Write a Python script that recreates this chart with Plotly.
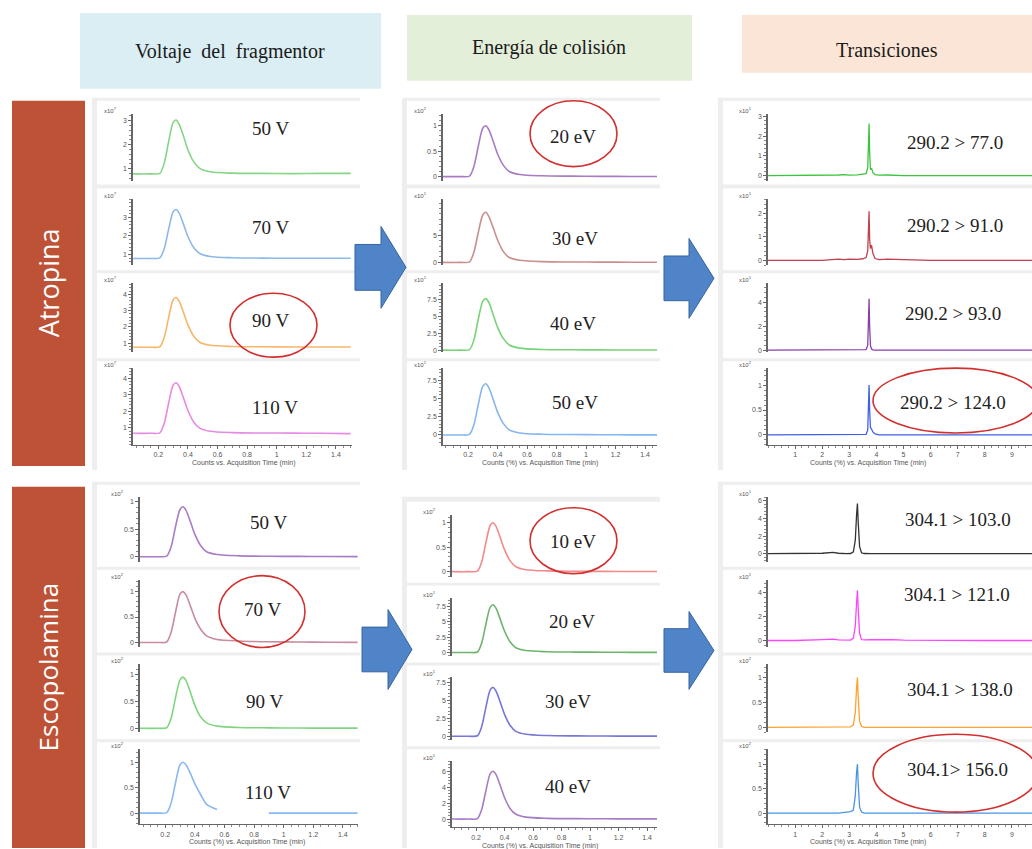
import plotly.graph_objects as go

W, H = 1032, 849

# ---------------- retention-time grids (min) ----------------
t_run = [0.03, 0.15, 0.21, 0.24, 0.27, 0.30, 0.32, 0.34, 0.37, 0.40, 0.44, 0.48,
         0.55, 0.70, 0.90, 1.10, 1.30, 1.50]
t_atr = [0.0, 1.0, 2.0, 2.6, 2.8, 3.0, 3.3, 3.5, 3.62, 3.68, 3.71, 3.73, 3.75,
         3.78, 3.82, 3.87, 3.95, 4.1, 4.4, 5.0, 6.0, 7.0, 8.0, 9.0, 9.75]
t_esc = [0.0, 1.0, 2.0, 2.4, 2.6, 2.9, 3.05, 3.15, 3.22, 3.27, 3.30, 3.33, 3.38,
         3.45, 3.55, 3.8, 4.2, 4.6, 5.0, 6.0, 7.0, 8.0, 9.0, 9.75]

# ---------------- Atropina ----------------
atr_frag_labels = ["50 V", "70 V", "90 V", "110 V"]
atr_frag_50 = [0.78, 0.78, 0.80, 1.23, 2.13, 2.92, 3.03, 2.87, 2.36, 1.79, 1.28, 1.01, 0.87, 0.81, 0.80, 0.79, 0.80, 0.80]
atr_frag_70 = [0.78, 0.78, 0.81, 1.31, 2.37, 3.30, 3.43, 3.25, 2.64, 1.97, 1.36, 1.05, 0.89, 0.82, 0.80, 0.79, 0.79, 0.79]
atr_frag_90 = [0.75, 0.75, 0.78, 1.36, 2.58, 3.65, 3.80, 3.59, 2.89, 2.12, 1.42, 1.06, 0.87, 0.80, 0.78, 0.77, 0.77, 0.77]
atr_frag_110 = [0.68, 0.68, 0.71, 1.29, 2.50, 3.57, 3.72, 3.51, 2.81, 2.05, 1.35, 0.99, 0.80, 0.72, 0.70, 0.69, 0.68, 0.66]

atr_ce_labels = ["20 eV", "30 eV", "40 eV", "50 eV"]
atr_ce_20 = [0, 0, 0.01, 0.20, 0.60, 0.95, 1.00, 0.93, 0.70, 0.45, 0.22, 0.10, 0.04, 0.015, 0.008, 0.005, 0.003, 0.002]
atr_ce_30 = [0, 0, 0.10, 1.9, 5.6, 8.8, 9.3, 8.6, 6.5, 4.2, 2.0, 0.9, 0.4, 0.14, 0.07, 0.05, 0.03, 0.02]
atr_ce_40 = [0, 0, 0.08, 1.5, 4.6, 7.2, 7.6, 7.1, 5.3, 3.4, 1.7, 0.76, 0.3, 0.11, 0.06, 0.04, 0.02, 0.02]
atr_ce_50 = [0, 0, 0.07, 1.4, 4.2, 6.65, 7.0, 6.5, 4.9, 3.15, 1.55, 0.7, 0.28, 0.1, 0.06, 0.04, 0.02, 0.02]

atr_mrm_labels = ["290.2 > 77.0", "290.2 > 91.0", "290.2 > 93.0", "290.2 > 124.0"]
atr_mrm_77 = [0, 0, 0, 0.03, 0.05, 0.02, 0.04, 0.06, 0.10, 0.40, 1.80, 2.65, 1.20, 0.30, 0.38, 0.15, 0.05, 0.02, 0.03, 0, 0, 0, 0, 0, 0]
atr_mrm_91 = [0, 0, 0, 0.05, 0.03, 0.05, 0.04, 0.07, 0.12, 0.40, 1.50, 2.10, 0.90, 0.50, 0.65, 0.30, 0.08, 0.03, 0.05, 0.02, 0, 0, 0, 0, 0]
atr_mrm_93 = [0, 0, 0, 0, 0, 0, 0, 0, 0.05, 0.40, 2.80, 4.30, 2.00, 0.40, 0.10, 0.03, 0, 0, 0, 0, 0, 0, 0, 0, 0]
atr_mrm_124 = [0, 0, 0, 0, 0, 0, 0, 0, 0.01, 0.10, 0.65, 1.00, 0.50, 0.15, 0.12, 0.06, 0.02, 0, 0, 0, 0, 0, 0, 0, 0]

# ---------------- Escopolamina ----------------
esc_frag_labels = ["50 V", "70 V", "90 V", "110 V"]
esc_frag_50 = [0, 0, 0.01, 0.18, 0.55, 0.86, 0.91, 0.85, 0.64, 0.41, 0.20, 0.09, 0.04, 0.015, 0.008, 0.005, 0.003, 0.002]
esc_frag_70 = [0, 0, 0.01, 0.20, 0.60, 0.95, 1.00, 0.94, 0.72, 0.48, 0.26, 0.13, 0.06, 0.03, 0.015, 0.01, 0.005, 0.003]
esc_frag_90 = [0, 0, 0.01, 0.19, 0.57, 0.90, 0.95, 0.89, 0.67, 0.43, 0.21, 0.10, 0.04, 0.015, 0.008, 0.005, 0.003, 0.002]
esc_frag_110 = [0, 0, 0.01, 0.20, 0.60, 0.95, 1.00, 0.95, 0.78, 0.58, 0.36, 0.17, 0.07, None, 0.0, 0.0, 0.0, 0.0]

esc_ce_labels = ["10 eV", "20 eV", "30 eV", "40 eV"]
esc_ce_10 = [0, 0, 0.01, 0.20, 0.60, 0.95, 1.00, 0.93, 0.70, 0.45, 0.22, 0.10, 0.04, 0.015, 0.008, 0.005, 0.003, 0.002]
esc_ce_20 = [0, 0, 0.08, 1.56, 4.7, 7.4, 7.8, 7.25, 5.45, 3.5, 1.7, 0.78, 0.31, 0.12, 0.06, 0.04, 0.02, 0.02]
esc_ce_30 = [0, 0, 0.07, 1.36, 4.1, 6.45, 6.8, 6.3, 4.75, 3.05, 1.5, 0.68, 0.27, 0.1, 0.05, 0.03, 0.02, 0.02]
esc_ce_40 = [0, 0, 0.06, 1.2, 3.6, 5.7, 6.0, 5.6, 4.2, 2.7, 1.3, 0.6, 0.24, 0.09, 0.05, 0.03, 0.02, 0.02]

esc_mrm_labels = ["304.1 > 103.0", "304.1 > 121.0", "304.1 > 138.0", "304.1> 156.0"]
esc_mrm_103 = [0, 0, 0.05, 0.15, 0.05, 0, 0.02, 0.20, 1.50, 4.50, 5.70, 3.50, 0.80, 0.10, 0.02, 0, 0, 0, 0, 0, 0, 0, 0, 0]
esc_mrm_121 = [0, 0, 0.08, 0.12, 0.05, 0, 0.03, 0.20, 1.20, 3.20, 4.20, 2.60, 0.60, 0.08, 0.05, 0.06, 0.10, 0.08, 0.03, 0, 0, 0, 0, 0]
esc_mrm_138 = [0, 0, 0, 0, 0, 0, 0.01, 0.05, 0.30, 0.80, 1.00, 0.60, 0.12, 0.02, 0, 0, 0, 0, 0, 0, 0, 0, 0, 0]
esc_mrm_156 = [0, 0, 0, 0, 0, 0.02, 0.03, 0.06, 0.35, 0.85, 1.00, 0.60, 0.12, 0.02, 0, 0, 0, 0, 0, 0, 0, 0, 0, 0]

# ---------------- tick labels ----------------
run_ticks = [0.2, 0.4, 0.6, 0.8, 1.0, 1.2, 1.4]
run_ticktext = ["0.2", "0.4", "0.6", "0.8", "1", "1.2", "1.4"]
mrm_ticks = [1, 2, 3, 4, 5, 6, 7, 8, 9]
mrm_ticktext = ["1", "2", "3", "4", "5", "6", "7", "8", "9"]

atr_frag_yticks = [[1, 2, 3], [1, 2, 3], [1, 2, 3, 4], [1, 2, 3, 4]]
atr_ce_yticks = [[0, 0.5, 1], [0, 5], [0, 2.5, 5, 7.5], [0, 2.5, 5, 7.5]]
atr_mrm_yticks = [[0, 1, 2, 3], [0, 1, 2], [0, 2, 4], [0, 0.5, 1]]
esc_frag_yticks = [[0, 0.5, 1], [0, 0.5, 1], [0, 0.5, 1], [0, 0.5, 1]]
esc_ce_yticks = [[0, 0.5, 1], [0, 2.5, 5, 7.5], [0, 2.5, 5, 7.5], [0, 2, 4, 6]]
esc_mrm_yticks = [[0, 2, 4, 6], [0, 2, 4], [0, 0.5, 1], [0, 0.5, 1]]

atr_frag_exp = [7, 7, 7, 7]
atr_ce_exp = [2, 1, 1, 1]
atr_mrm_exp = [1, 1, 1, 2]
esc_frag_exp = [2, 2, 2, 2]
esc_ce_exp = [2, 1, 1, 1]
esc_mrm_exp = [1, 1, 2, 2]

title_counts = "Counts vs. Acquisition Time (min)"
title_pct = "Counts (%) vs. Acquisition Time (min)"


# ---------------- geometry helpers (pixels -> paper) ----------------
def fx(p):
    return p / W


def fy(p):
    return 1 - p / H


def y_range(top, bot, cal):
    va, pa, vb, pb = cal
    s = (pa - pb) / (vb - va)
    return [va - (bot - pa) / s, va + (pa - top) / s]


UPPER_ROWS = [(113, 180), (198, 265), (283, 352), (368, 445)]
LOWER_ROWS = [(497, 562), (580, 648), (665, 733), (750, 825)]
LOWER_CE_ROWS = [(515, 577), (598, 657), (678, 741), (762, 828)]
UPPER_BANDS = [(100, 184), (188, 270), (273, 358), (361, 470)]
LOWER_BANDS = [(485, 567), (570, 653), (656, 740), (743, 849)]
LOWER_CE_BANDS = [(502, 583), (586, 663), (666, 747), (750, 849)]

panels = [
    dict(box=(92, 97, 360, 470), bands=UPPER_BANDS, rows=UPPER_ROWS, x0=133, x1=352, xz=128.7, xs=148,
         t=t_run, series=[atr_frag_50, atr_frag_70, atr_frag_90, atr_frag_110],
         colors=["#86d486", "#8db8ea", "#f6b76a", "#e58ae5"],
         labels=atr_frag_labels, label_xy=[(270, 128), (270, 227), (270, 320), (275, 407)],
         exps=atr_frag_exp, yticks=atr_frag_yticks,
         cal=[(1, 168, 3, 120), (1, 254, 3, 217), (1, 343, 4, 294), (1, 428, 4, 378)],
         xt=run_ticks, xtt=run_ticktext, xminor=0.05, title=title_counts, title_xy=(243, 463),
         lw=1.6, shape="spline"),
    dict(box=(402, 97, 660, 470), bands=UPPER_BANDS, rows=UPPER_ROWS, x0=443, x1=657, xz=438.5, xs=147.5,
         t=t_run, series=[atr_ce_20, atr_ce_30, atr_ce_40, atr_ce_50],
         colors=["#a77cc4", "#c98f8f", "#79d479", "#86b6f0"],
         labels=atr_ce_labels, label_xy=[(573, 136), (575, 238), (573, 323), (575, 402)],
         exps=atr_ce_exp, yticks=atr_ce_yticks,
         cal=[(0, 176, 1, 125), (0, 262, 5, 235), (0, 350, 7.5, 299), (0, 435, 7.5, 380)],
         xt=run_ticks, xtt=run_ticktext, xminor=0.05, title=title_pct, title_xy=(540, 463),
         lw=1.6, shape="spline"),
    dict(box=(718, 97, 1032, 470), bands=UPPER_BANDS, rows=UPPER_ROWS, x0=768, x1=1032, xz=768, xs=27.1,
         t=t_atr, series=[atr_mrm_77, atr_mrm_91, atr_mrm_93, atr_mrm_124],
         colors=["#3cc43c", "#c0404e", "#8a3fa8", "#3f5fe6"],
         labels=atr_mrm_labels, label_xy=[(955, 142), (955, 225), (953, 313), (953, 402)],
         exps=atr_mrm_exp, yticks=atr_mrm_yticks,
         cal=[(0, 175, 3, 116), (0, 260, 2, 213), (0, 350, 4, 302), (0, 435, 1, 385)],
         xt=mrm_ticks, xtt=mrm_ticktext, xminor=0.25, title=title_pct, title_xy=(868, 463),
         lw=1.3, shape="linear"),
    dict(box=(92, 482, 360, 849), bands=LOWER_BANDS, rows=LOWER_ROWS, x0=140, x1=358, xz=135.6, xs=148,
         t=t_run, series=[esc_frag_50, esc_frag_70, esc_frag_90, esc_frag_110],
         colors=["#a87cc6", "#c88d9c", "#7fd67f", "#8ab8f0"],
         labels=esc_frag_labels, label_xy=[(268, 523), (262, 610), (264, 702), (268, 793)],
         exps=esc_frag_exp, yticks=esc_frag_yticks,
         cal=[(0, 557, 1, 502), (0, 643, 1, 592), (0, 729, 1, 675), (0, 814, 1, 763)],
         xt=run_ticks, xtt=run_ticktext, xminor=0.05, title=title_pct, title_xy=(247, 843),
         lw=1.6, shape="spline"),
    dict(box=(402, 497, 660, 849), bands=LOWER_CE_BANDS, rows=LOWER_CE_ROWS, x0=452, x1=657, xz=447.5, xs=142.5,
         t=t_run, series=[esc_ce_10, esc_ce_20, esc_ce_30, esc_ce_40],
         colors=["#f28a8a", "#6db46d", "#7777d6", "#a67cc4"],
         labels=esc_ce_labels, label_xy=[(573, 542), (572, 622), (568, 702), (568, 787)],
         exps=esc_ce_exp, yticks=esc_ce_yticks,
         cal=[(0, 572, 1, 523), (0, 653, 7.5, 607), (0, 737, 7.5, 683), (0, 820, 6, 772)],
         xt=run_ticks, xtt=run_ticktext, xminor=0.05, title=title_pct, title_xy=(540, 847),
         lw=1.6, shape="spline"),
    dict(box=(718, 482, 1032, 849), bands=LOWER_BANDS, rows=LOWER_ROWS, x0=768, x1=1032, xz=768, xs=27.1,
         t=t_esc, series=[esc_mrm_103, esc_mrm_121, esc_mrm_138, esc_mrm_156],
         colors=["#333333", "#ff44ff", "#ffa22e", "#4a94e4"],
         labels=esc_mrm_labels, label_xy=[(958, 520), (957, 595), (960, 690), (957, 770)],
         exps=esc_mrm_exp, yticks=esc_mrm_yticks,
         cal=[(0, 554, 6, 501), (0, 641, 4, 593), (0, 728, 1, 678), (0, 814, 1, 765)],
         xt=mrm_ticks, xtt=mrm_ticktext, xminor=0.25, title=title_pct, title_xy=(868, 843),
         lw=1.3, shape="linear"),
]

AX = "#666666"
TICKFONT = dict(family="Liberation Sans, Arial, sans-serif", size=7, color="#555555")
SERIF = "Liberation Serif, Times New Roman, serif"

fig = go.Figure()
shapes = []
annotations = []
layout_axes = {}


def rect(x0, y0, x1, y1, fill, layer="below", line=None):
    shapes.append(dict(type="rect", xref="paper", yref="paper",
                       x0=fx(x0), x1=fx(x1), y0=fy(y1), y1=fy(y0),
                       fillcolor=fill, line=line or dict(width=0), layer=layer))


def label(x, y, text, size, color="#222222", family=SERIF, angle=0, **kw):
    annotations.append(dict(xref="paper", yref="paper", x=fx(x), y=fy(y), text=text,
                            showarrow=False, xanchor="center", yanchor="middle",
                            textangle=angle, font=dict(family=family, size=size, color=color), **kw))


# column headers
rect(80, 12, 381, 88, "#dbeef4")
rect(407, 14, 692, 80, "#e4efda")
rect(742, 14, 1032, 72, "#fbe5d6")
label(230, 51, "Voltaje  del  fragmentor", 20, color="#1a1a1a")
label(549, 47, "Energía de colisión", 20, color="#1a1a1a")
label(887, 49, "Transiciones", 20, color="#1a1a1a")

# compound labels
rect(12, 100, 85, 466, "#bd5236")
rect(12, 487, 85, 849, "#bd5236")
label(48, 283, "Atropina", 27, color="white", family="Open Sans, sans-serif", angle=-90)
label(48, 668, "Escopolamina", 26, color="white", family="Open Sans, sans-serif", angle=-90)

idx = 0
for P in panels:
    bx0, by0, bx1, by1 = P["box"]
    rect(bx0, by0, bx1, by1, "#eeeeee")
    for (b0, b1) in P["bands"]:
        rect(bx0 + 5, b0, bx1, b1, "#ffffff")
    xr = [(P["x0"] - P["xz"]) / P["xs"], (P["x1"] - P["xz"]) / P["xs"]]
    for r in range(4):
        idx += 1
        sfx = "" if idx == 1 else str(idx)
        top, bot = P["rows"][r]
        fig.add_trace(go.Scatter(
            x=P["t"], y=P["series"][r], mode="lines",
            line=dict(color=P["colors"][r], width=P["lw"], shape=P["shape"],
                      **({"smoothing": 0.8} if P["shape"] == "spline" else {})),
            connectgaps=False, showlegend=False, hoverinfo="skip",
            xaxis="x" + sfx, yaxis="y" + sfx))
        last = r == 3
        layout_axes["xaxis" + sfx] = dict(
            domain=[fx(P["x0"]), fx(P["x1"])], range=xr, anchor="y" + sfx,
            visible=last, showline=True, linecolor=AX, linewidth=1.2,
            ticks="outside", ticklen=3, tickcolor=AX, tickwidth=1,
            tickmode="array", tickvals=P["xt"], ticktext=P["xtt"], tickfont=TICKFONT,
            showgrid=False, zeroline=False, fixedrange=True,
            minor=dict(ticks="outside", ticklen=2, tickcolor="#888888", tick0=0,
                       dtick=P["xminor"], showgrid=False))
        yt = P["yticks"][r]
        step = yt[1] - yt[0]
        layout_axes["yaxis" + sfx] = dict(
            domain=[fy(bot), fy(top)], range=y_range(top, bot, P["cal"][r]), anchor="x" + sfx,
            showline=True, linecolor=AX, linewidth=1.6,
            ticks="outside", ticklen=3, tickcolor=AX, tickwidth=1,
            tickmode="array", tickvals=yt, ticktext=[f"{v:g}" for v in yt], tickfont=TICKFONT,
            showgrid=False, zeroline=False, fixedrange=True,
            minor=dict(ticks="outside", ticklen=2, tickcolor="#888888", tick0=0,
                       dtick=step / 5, showgrid=False))
        label(P["x0"] - 23, top - 4, f"x10<sup>{P['exps'][r]}</sup>", 6, color="#555555",
              family="Liberation Sans, Arial, sans-serif")
        lx, ly = P["label_xy"][r]
        label(lx, ly, P["labels"][r], 19)
    tx, ty = P["title_xy"]
    label(tx, ty, P["title"], 7, color="#555555", family="Liberation Sans, Arial, sans-serif")

# selected conditions
SEL = "#d2302f"
for (x0, y0, x1, y1) in [(230, 293, 317, 357), (530, 100, 617, 166), (873, 368, 1038, 433),
                         (219, 576, 305, 648), (530, 508, 617, 574), (873, 735, 1038, 813)]:
    shapes.append(dict(type="circle", xref="paper", yref="paper",
                       x0=fx(x0), x1=fx(x1), y0=fy(y1), y1=fy(y0),
                       line=dict(color=SEL, width=1.6), fillcolor="rgba(0,0,0,0)", layer="above"))


# workflow arrows
def arrow_path(x0, xm, x1, yt, yb):
    yc = (yt + yb) / 2
    hs = (yb - yt) * 0.28
    pts = [(x0, yc - hs), (xm, yc - hs), (xm, yt), (x1, yc), (xm, yb), (xm, yc + hs), (x0, yc + hs)]
    return "M " + " L ".join(f"{fx(x):.5f},{fy(y):.5f}" for x, y in pts) + " Z"


for a in [(355, 381, 406, 226, 308), (664, 689, 714, 238, 318),
          (362, 388, 412, 610, 690), (664, 689, 714, 612, 690)]:
    shapes.append(dict(type="path", xref="paper", yref="paper", path=arrow_path(*a),
                       fillcolor="#4f84c8", line=dict(color="#36649e", width=1), layer="above"))

fig.update_layout(
    width=W, height=H, margin=dict(l=0, r=0, t=0, b=0),
    paper_bgcolor="white", plot_bgcolor="rgba(0,0,0,0)",
    shapes=shapes, annotations=annotations, showlegend=False,
    **layout_axes)

fig.write_html("out.html")
